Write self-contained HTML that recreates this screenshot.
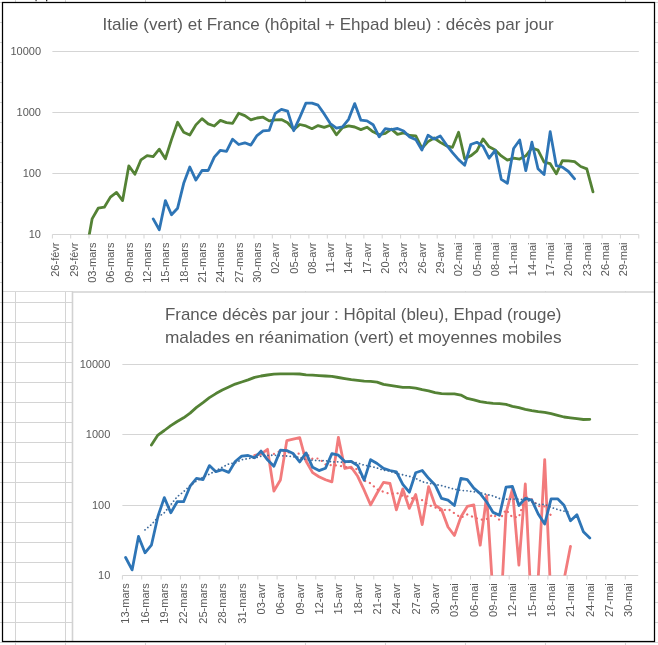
<!DOCTYPE html><html><head><meta charset="utf-8"><style>html,body{margin:0;padding:0;background:#fff;overflow:hidden}svg{display:block;will-change:transform}</style></head><body><svg width="658" height="645" viewBox="0 0 658 645">
<defs><clipPath id="cp1"><rect x="52" y="40" width="590" height="194.6"/></clipPath><clipPath id="cp2"><rect x="122" y="350" width="520" height="225.6"/></clipPath></defs>
<rect width="658" height="645" fill="#fff"/>
<path d="M0 2.5H658 M0 22.5H658 M0 42.5H658 M0 62.5H658 M0 82.5H658 M0 102.5H658 M0 122.5H658 M0 142.5H658 M0 162.5H658 M0 182.5H658 M0 202.5H658 M0 222.5H658 M0 242.5H658 M0 262.5H658 M0 282.5H658 M0 302.5H658 M0 322.5H658 M0 342.5H658 M0 362.5H658 M0 382.5H658 M0 402.5H658 M0 422.5H658 M0 442.5H658 M0 462.5H658 M0 482.5H658 M0 502.5H658 M0 522.5H658 M0 542.5H658 M0 562.5H658 M0 582.5H658 M0 602.5H658 M0 622.5H658 M0 642.5H658 M15.5 0V645 M65.5 0V645 M145.5 0V645 M225.5 0V645 M305.5 0V645 M385.5 0V645 M465.5 0V645 M545.5 0V645 M625.5 0V645" stroke="#d4d4d4" stroke-width="1" fill="none"/>
<rect x="35.3" y="0" width="1.6" height="1.2" fill="#666"/><rect x="46" y="0" width="1.3" height="1.3" fill="#222"/>
<rect x="3" y="3" width="651" height="288" fill="#fff"/>
<path d="M3 291.5H73" stroke="#d9d9d9" stroke-width="1"/>
<rect x="72.5" y="292" width="582" height="350" fill="#fff"/>
<path d="M72.5 641V292H654" stroke="#d2d2d2" stroke-width="1.6" fill="none"/>
<rect x="2.5" y="2.5" width="652" height="639" fill="none" stroke="#000" stroke-width="1.25"/>
<path d="M52.4 51.5H638.8 M52.4 112.5H638.8 M52.4 173.5H638.8 M52.4 234.5H638.8" stroke="#d5d5d5" stroke-width="1" fill="none"/>
<path d="M52.4 234.5V238.5 M70.7 234.5V238.5 M89.0 234.5V238.5 M107.4 234.5V238.5 M125.7 234.5V238.5 M144.0 234.5V238.5 M162.3 234.5V238.5 M180.7 234.5V238.5 M199.0 234.5V238.5 M217.3 234.5V238.5 M235.6 234.5V238.5 M254.0 234.5V238.5 M272.3 234.5V238.5 M290.6 234.5V238.5 M308.9 234.5V238.5 M327.3 234.5V238.5 M345.6 234.5V238.5 M363.9 234.5V238.5 M382.2 234.5V238.5 M400.6 234.5V238.5 M418.9 234.5V238.5 M437.2 234.5V238.5 M455.5 234.5V238.5 M473.9 234.5V238.5 M492.2 234.5V238.5 M510.5 234.5V238.5 M528.8 234.5V238.5 M547.1 234.5V238.5 M565.5 234.5V238.5 M583.8 234.5V238.5 M602.1 234.5V238.5 M620.4 234.5V238.5 M638.8 234.5V238.5" stroke="#d5d5d5" stroke-width="1" fill="none"/>
<text x="102.6" y="30" textLength="451" lengthAdjust="spacingAndGlyphs" font-family='"Liberation Sans", sans-serif' font-size="17" fill="#595959">Italie (vert) et France (hôpital + Ehpad bleu) : décès par jour</text>
<text x="41" y="55.3" font-family='"Liberation Sans", sans-serif' font-size="11" fill="#595959" text-anchor="end">10000</text>
<text x="41" y="116.3" font-family='"Liberation Sans", sans-serif' font-size="11" fill="#595959" text-anchor="end">1000</text>
<text x="41" y="177.3" font-family='"Liberation Sans", sans-serif' font-size="11" fill="#595959" text-anchor="end">100</text>
<text x="41" y="238.3" font-family='"Liberation Sans", sans-serif' font-size="11" fill="#595959" text-anchor="end">10</text>
<text transform="translate(59.3 242.5) rotate(-90)" font-family='"Liberation Sans", sans-serif' font-size="11" fill="#595959" text-anchor="end">26-févr</text>
<text transform="translate(77.6 242.5) rotate(-90)" font-family='"Liberation Sans", sans-serif' font-size="11" fill="#595959" text-anchor="end">29-févr</text>
<text transform="translate(95.9 242.5) rotate(-90)" font-family='"Liberation Sans", sans-serif' font-size="11" fill="#595959" text-anchor="end">03-mars</text>
<text transform="translate(114.2 242.5) rotate(-90)" font-family='"Liberation Sans", sans-serif' font-size="11" fill="#595959" text-anchor="end">06-mars</text>
<text transform="translate(132.6 242.5) rotate(-90)" font-family='"Liberation Sans", sans-serif' font-size="11" fill="#595959" text-anchor="end">09-mars</text>
<text transform="translate(150.9 242.5) rotate(-90)" font-family='"Liberation Sans", sans-serif' font-size="11" fill="#595959" text-anchor="end">12-mars</text>
<text transform="translate(169.2 242.5) rotate(-90)" font-family='"Liberation Sans", sans-serif' font-size="11" fill="#595959" text-anchor="end">15-mars</text>
<text transform="translate(187.5 242.5) rotate(-90)" font-family='"Liberation Sans", sans-serif' font-size="11" fill="#595959" text-anchor="end">18-mars</text>
<text transform="translate(205.8 242.5) rotate(-90)" font-family='"Liberation Sans", sans-serif' font-size="11" fill="#595959" text-anchor="end">21-mars</text>
<text transform="translate(224.2 242.5) rotate(-90)" font-family='"Liberation Sans", sans-serif' font-size="11" fill="#595959" text-anchor="end">24-mars</text>
<text transform="translate(242.5 242.5) rotate(-90)" font-family='"Liberation Sans", sans-serif' font-size="11" fill="#595959" text-anchor="end">27-mars</text>
<text transform="translate(260.8 242.5) rotate(-90)" font-family='"Liberation Sans", sans-serif' font-size="11" fill="#595959" text-anchor="end">30-mars</text>
<text transform="translate(279.1 242.5) rotate(-90)" font-family='"Liberation Sans", sans-serif' font-size="11" fill="#595959" text-anchor="end">02-avr</text>
<text transform="translate(297.5 242.5) rotate(-90)" font-family='"Liberation Sans", sans-serif' font-size="11" fill="#595959" text-anchor="end">05-avr</text>
<text transform="translate(315.8 242.5) rotate(-90)" font-family='"Liberation Sans", sans-serif' font-size="11" fill="#595959" text-anchor="end">08-avr</text>
<text transform="translate(334.1 242.5) rotate(-90)" font-family='"Liberation Sans", sans-serif' font-size="11" fill="#595959" text-anchor="end">11-avr</text>
<text transform="translate(352.4 242.5) rotate(-90)" font-family='"Liberation Sans", sans-serif' font-size="11" fill="#595959" text-anchor="end">14-avr</text>
<text transform="translate(370.8 242.5) rotate(-90)" font-family='"Liberation Sans", sans-serif' font-size="11" fill="#595959" text-anchor="end">17-avr</text>
<text transform="translate(389.1 242.5) rotate(-90)" font-family='"Liberation Sans", sans-serif' font-size="11" fill="#595959" text-anchor="end">20-avr</text>
<text transform="translate(407.4 242.5) rotate(-90)" font-family='"Liberation Sans", sans-serif' font-size="11" fill="#595959" text-anchor="end">23-avr</text>
<text transform="translate(425.7 242.5) rotate(-90)" font-family='"Liberation Sans", sans-serif' font-size="11" fill="#595959" text-anchor="end">26-avr</text>
<text transform="translate(444.1 242.5) rotate(-90)" font-family='"Liberation Sans", sans-serif' font-size="11" fill="#595959" text-anchor="end">29-avr</text>
<text transform="translate(462.4 242.5) rotate(-90)" font-family='"Liberation Sans", sans-serif' font-size="11" fill="#595959" text-anchor="end">02-mai</text>
<text transform="translate(480.7 242.5) rotate(-90)" font-family='"Liberation Sans", sans-serif' font-size="11" fill="#595959" text-anchor="end">05-mai</text>
<text transform="translate(499.0 242.5) rotate(-90)" font-family='"Liberation Sans", sans-serif' font-size="11" fill="#595959" text-anchor="end">08-mai</text>
<text transform="translate(517.4 242.5) rotate(-90)" font-family='"Liberation Sans", sans-serif' font-size="11" fill="#595959" text-anchor="end">11-mai</text>
<text transform="translate(535.7 242.5) rotate(-90)" font-family='"Liberation Sans", sans-serif' font-size="11" fill="#595959" text-anchor="end">14-mai</text>
<text transform="translate(554.0 242.5) rotate(-90)" font-family='"Liberation Sans", sans-serif' font-size="11" fill="#595959" text-anchor="end">17-mai</text>
<text transform="translate(572.3 242.5) rotate(-90)" font-family='"Liberation Sans", sans-serif' font-size="11" fill="#595959" text-anchor="end">20-mai</text>
<text transform="translate(590.6 242.5) rotate(-90)" font-family='"Liberation Sans", sans-serif' font-size="11" fill="#595959" text-anchor="end">23-mai</text>
<text transform="translate(609.0 242.5) rotate(-90)" font-family='"Liberation Sans", sans-serif' font-size="11" fill="#595959" text-anchor="end">26-mai</text>
<text transform="translate(627.3 242.5) rotate(-90)" font-family='"Liberation Sans", sans-serif' font-size="11" fill="#595959" text-anchor="end">29-mai</text>
<g clip-path="url(#cp1)" fill="none" stroke-width="2.8" stroke-linejoin="round" stroke-linecap="round">
<polyline points="86.0,252.9 92.1,218.9 98.2,208.2 104.3,207.2 110.4,197.1 116.5,192.4 122.6,200.6 128.8,165.9 134.9,174.3 141.0,159.8 147.1,155.7 153.2,156.6 159.3,149.2 165.4,158.7 171.5,139.6 177.6,122.3 183.7,132.2 189.8,135.0 195.9,124.9 202.0,118.6 208.2,123.9 214.3,126.0 220.4,120.4 226.5,122.6 232.6,123.4 238.7,113.3 244.8,115.6 250.9,119.9 257.0,118.0 263.1,117.2 269.2,120.9 275.3,119.8 281.4,119.6 287.6,122.7 293.7,129.6 299.8,124.5 305.9,125.9 312.0,128.7 318.1,125.6 324.2,127.4 330.3,125.2 336.4,134.8 342.5,127.6 348.6,125.9 354.7,127.0 360.9,129.6 367.0,127.2 373.1,131.8 379.2,134.7 385.3,133.4 391.4,129.1 397.5,134.4 403.6,132.8 409.7,135.5 415.8,135.8 421.9,148.2 428.0,141.6 434.1,138.0 440.3,142.4 446.4,145.8 452.5,147.3 458.6,132.3 464.7,158.8 470.8,155.8 476.9,150.8 483.0,138.9 489.1,146.8 495.2,150.0 501.3,155.9 507.4,160.2 513.6,158.1 519.7,159.1 525.8,155.8 531.9,148.0 538.0,150.1 544.1,162.2 550.2,163.7 556.3,173.8 562.4,160.7 568.5,160.9 574.6,161.7 580.7,166.5 586.8,168.9 593.0,191.9" stroke="#548235"/>
<polyline points="153.2,218.9 159.3,229.7 165.4,200.6 171.5,214.8 177.6,208.2 183.7,183.3 189.8,167.0 195.9,180.1 202.0,170.5 208.2,170.5 214.3,157.1 220.4,150.3 226.5,151.3 232.6,139.2 238.7,144.5 244.8,142.8 250.9,145.1 257.0,135.6 263.1,130.9 269.2,130.4 275.3,113.3 281.4,109.3 287.6,111.2 293.7,130.7 299.8,117.3 305.9,103.1 312.0,103.2 318.1,105.2 324.2,113.9 330.3,123.6 336.4,128.1 342.5,126.9 348.6,119.3 354.7,103.6 360.9,120.2 367.0,120.9 373.1,124.7 379.2,136.8 385.3,128.7 391.4,129.6 397.5,128.5 403.6,131.0 409.7,137.0 415.8,139.6 421.9,150.0 428.0,135.3 434.1,139.1 440.3,136.0 446.4,144.8 452.5,152.6 458.6,159.6 464.7,165.2 470.8,144.5 476.9,142.3 483.0,146.1 489.1,158.2 495.2,150.4 501.3,179.4 507.4,183.3 513.6,148.5 519.7,140.0 525.8,170.7 531.9,142.2 538.0,168.7 544.1,174.6 550.2,131.7 556.3,165.7 562.4,167.2 568.5,171.5 574.6,178.8" stroke="#2e75b6"/>
</g>
<path d="M122.4 364.5H638.2 M122.4 434.5H638.2 M122.4 505.5H638.2 M122.4 575.5H638.2" stroke="#d5d5d5" stroke-width="1" fill="none"/>
<path d="M122.4 575.5V579.5 M141.7 575.5V579.5 M161.1 575.5V579.5 M180.4 575.5V579.5 M199.8 575.5V579.5 M219.1 575.5V579.5 M238.4 575.5V579.5 M257.8 575.5V579.5 M277.1 575.5V579.5 M296.5 575.5V579.5 M315.8 575.5V579.5 M335.2 575.5V579.5 M354.5 575.5V579.5 M373.8 575.5V579.5 M393.2 575.5V579.5 M412.5 575.5V579.5 M431.9 575.5V579.5 M451.2 575.5V579.5 M470.5 575.5V579.5 M489.9 575.5V579.5 M509.2 575.5V579.5 M528.6 575.5V579.5 M547.9 575.5V579.5 M567.2 575.5V579.5 M586.6 575.5V579.5 M605.9 575.5V579.5 M625.3 575.5V579.5" stroke="#d5d5d5" stroke-width="1" fill="none"/>
<text x="165" y="320" textLength="396.5" lengthAdjust="spacingAndGlyphs" font-family='"Liberation Sans", sans-serif' font-size="17" fill="#595959">France décès par jour : Hôpital (bleu), Ehpad (rouge)</text>
<text x="165" y="343" textLength="396.5" lengthAdjust="spacingAndGlyphs" font-family='"Liberation Sans", sans-serif' font-size="17" fill="#595959">malades en réanimation (vert) et moyennes mobiles</text>
<text x="110.3" y="368.3" font-family='"Liberation Sans", sans-serif' font-size="11" fill="#595959" text-anchor="end">10000</text>
<text x="110.3" y="438.3" font-family='"Liberation Sans", sans-serif' font-size="11" fill="#595959" text-anchor="end">1000</text>
<text x="110.3" y="509.3" font-family='"Liberation Sans", sans-serif' font-size="11" fill="#595959" text-anchor="end">100</text>
<text x="110.3" y="579.3" font-family='"Liberation Sans", sans-serif' font-size="11" fill="#595959" text-anchor="end">10</text>
<text transform="translate(129.4 583.3) rotate(-90)" font-family='"Liberation Sans", sans-serif' font-size="11" fill="#595959" text-anchor="end">13-mars</text>
<text transform="translate(148.8 583.3) rotate(-90)" font-family='"Liberation Sans", sans-serif' font-size="11" fill="#595959" text-anchor="end">16-mars</text>
<text transform="translate(168.1 583.3) rotate(-90)" font-family='"Liberation Sans", sans-serif' font-size="11" fill="#595959" text-anchor="end">19-mars</text>
<text transform="translate(187.4 583.3) rotate(-90)" font-family='"Liberation Sans", sans-serif' font-size="11" fill="#595959" text-anchor="end">22-mars</text>
<text transform="translate(206.8 583.3) rotate(-90)" font-family='"Liberation Sans", sans-serif' font-size="11" fill="#595959" text-anchor="end">25-mars</text>
<text transform="translate(226.1 583.3) rotate(-90)" font-family='"Liberation Sans", sans-serif' font-size="11" fill="#595959" text-anchor="end">28-mars</text>
<text transform="translate(245.5 583.3) rotate(-90)" font-family='"Liberation Sans", sans-serif' font-size="11" fill="#595959" text-anchor="end">31-mars</text>
<text transform="translate(264.8 583.3) rotate(-90)" font-family='"Liberation Sans", sans-serif' font-size="11" fill="#595959" text-anchor="end">03-avr</text>
<text transform="translate(284.2 583.3) rotate(-90)" font-family='"Liberation Sans", sans-serif' font-size="11" fill="#595959" text-anchor="end">06-avr</text>
<text transform="translate(303.5 583.3) rotate(-90)" font-family='"Liberation Sans", sans-serif' font-size="11" fill="#595959" text-anchor="end">09-avr</text>
<text transform="translate(322.8 583.3) rotate(-90)" font-family='"Liberation Sans", sans-serif' font-size="11" fill="#595959" text-anchor="end">12-avr</text>
<text transform="translate(342.2 583.3) rotate(-90)" font-family='"Liberation Sans", sans-serif' font-size="11" fill="#595959" text-anchor="end">15-avr</text>
<text transform="translate(361.5 583.3) rotate(-90)" font-family='"Liberation Sans", sans-serif' font-size="11" fill="#595959" text-anchor="end">18-avr</text>
<text transform="translate(380.9 583.3) rotate(-90)" font-family='"Liberation Sans", sans-serif' font-size="11" fill="#595959" text-anchor="end">21-avr</text>
<text transform="translate(400.2 583.3) rotate(-90)" font-family='"Liberation Sans", sans-serif' font-size="11" fill="#595959" text-anchor="end">24-avr</text>
<text transform="translate(419.5 583.3) rotate(-90)" font-family='"Liberation Sans", sans-serif' font-size="11" fill="#595959" text-anchor="end">27-avr</text>
<text transform="translate(438.9 583.3) rotate(-90)" font-family='"Liberation Sans", sans-serif' font-size="11" fill="#595959" text-anchor="end">30-avr</text>
<text transform="translate(458.2 583.3) rotate(-90)" font-family='"Liberation Sans", sans-serif' font-size="11" fill="#595959" text-anchor="end">03-mai</text>
<text transform="translate(477.6 583.3) rotate(-90)" font-family='"Liberation Sans", sans-serif' font-size="11" fill="#595959" text-anchor="end">06-mai</text>
<text transform="translate(496.9 583.3) rotate(-90)" font-family='"Liberation Sans", sans-serif' font-size="11" fill="#595959" text-anchor="end">09-mai</text>
<text transform="translate(516.2 583.3) rotate(-90)" font-family='"Liberation Sans", sans-serif' font-size="11" fill="#595959" text-anchor="end">12-mai</text>
<text transform="translate(535.6 583.3) rotate(-90)" font-family='"Liberation Sans", sans-serif' font-size="11" fill="#595959" text-anchor="end">15-mai</text>
<text transform="translate(554.9 583.3) rotate(-90)" font-family='"Liberation Sans", sans-serif' font-size="11" fill="#595959" text-anchor="end">18-mai</text>
<text transform="translate(574.3 583.3) rotate(-90)" font-family='"Liberation Sans", sans-serif' font-size="11" fill="#595959" text-anchor="end">21-mai</text>
<text transform="translate(593.6 583.3) rotate(-90)" font-family='"Liberation Sans", sans-serif' font-size="11" fill="#595959" text-anchor="end">24-mai</text>
<text transform="translate(612.9 583.3) rotate(-90)" font-family='"Liberation Sans", sans-serif' font-size="11" fill="#595959" text-anchor="end">27-mai</text>
<text transform="translate(632.3 583.3) rotate(-90)" font-family='"Liberation Sans", sans-serif' font-size="11" fill="#595959" text-anchor="end">30-mai</text>
<g clip-path="url(#cp2)" fill="none" stroke-linejoin="round" stroke-linecap="round">
<polyline points="151.4,445.1 157.9,435.1 164.3,430.5 170.8,425.6 177.2,421.5 183.6,417.8 190.1,413.1 196.5,407.4 203.0,402.6 209.4,397.6 215.9,393.6 222.3,390.1 228.8,387.1 235.2,384.1 241.7,382.0 248.1,379.9 254.6,377.4 261.0,376.0 267.5,375.0 273.9,374.2 280.4,373.8 286.8,373.8 293.2,373.8 299.7,374.0 306.1,374.9 312.6,375.2 319.0,375.6 325.5,376.0 331.9,376.3 338.4,377.5 344.8,378.6 351.3,379.6 357.7,380.4 364.2,381.2 370.6,381.4 377.1,382.1 383.5,384.4 390.0,385.4 396.4,386.4 402.8,387.3 409.3,387.4 415.7,388.2 422.2,389.6 428.6,390.8 435.1,392.6 441.5,393.7 448.0,393.9 454.4,393.8 460.9,395.1 467.3,398.4 473.8,399.8 480.2,401.7 486.7,402.7 493.1,403.3 499.5,403.7 506.0,404.4 512.4,406.3 518.9,407.7 525.3,409.4 531.8,410.7 538.2,411.7 544.7,412.4 551.1,413.7 557.6,415.3 564.0,417.0 570.5,417.8 576.9,418.6 583.4,419.5 589.8,419.3" stroke="#548235" stroke-width="2.8"/>
<polyline points="254.6,455.4 261.0,454.1 267.5,449.3 273.9,491.0 280.4,480.0 286.8,440.6 293.2,439.1 299.7,437.7 306.1,461.3 312.6,472.6 319.0,476.7 325.5,479.7 331.9,481.9 338.4,437.3 344.8,468.5 351.3,467.2 357.7,476.3 364.2,490.2 370.6,504.9 377.1,493.0 383.5,482.4 390.0,483.5 396.4,509.8 402.8,489.0 409.3,508.4 415.7,494.5 422.2,524.6 428.6,486.7 435.1,505.2 441.5,509.4 448.0,527.0 454.4,535.5 460.9,516.9 467.3,506.4 473.8,504.9 480.2,545.2 486.7,495.6 493.1,596.7 499.5,633.4 506.0,513.2 512.4,489.0 518.9,565.2 525.3,484.0 531.8,616.6 538.2,578.7 544.7,459.6 551.1,603.5 557.6,624.7 564.0,579.8 570.5,546.3" stroke="#f27b7c" stroke-width="2.8"/>
<polyline points="273.9,453.9 280.4,450.8 286.8,451.7 293.2,454.3 299.7,453.5 306.1,453.5 312.6,458.9 319.0,458.4 325.5,464.4 331.9,465.2 338.4,465.6 344.8,466.7 351.3,468.4 357.7,469.2 364.2,480.7 370.6,483.3 377.1,489.5 383.5,491.8 390.0,494.0 396.4,492.8 402.8,495.7 409.3,496.6 415.7,500.2 422.2,500.2 428.6,505.0 435.1,507.4 441.5,511.1 448.0,508.9 454.4,513.2 460.9,517.7 467.3,514.5 473.8,517.3 480.2,519.7 486.7,519.0 493.1,514.3 499.5,519.9 506.0,509.7 512.4,517.3 518.9,517.1 525.3,496.9 531.8,499.4 538.2,506.2 544.7,506.4 551.1,515.6" stroke="#ec6a6d" stroke-width="2.2" stroke-dasharray="0.1 5.1"/>
<polyline points="125.6,557.5 132.1,569.9 138.5,536.4 145.0,552.8 151.4,545.2 157.9,516.5 164.3,497.6 170.8,512.8 177.2,501.7 183.6,501.7 190.1,486.2 196.5,478.4 203.0,479.6 209.4,465.6 215.9,471.7 222.3,469.7 228.8,472.4 235.2,461.5 241.7,456.1 248.1,455.5 254.6,457.8 261.0,451.1 267.5,459.8 273.9,466.3 280.4,450.2 286.8,450.6 293.2,453.6 299.7,461.9 306.1,452.9 312.6,467.3 319.0,470.6 325.5,468.2 331.9,453.6 338.4,455.2 344.8,461.6 351.3,461.5 357.7,465.7 364.2,480.1 370.6,459.7 377.1,463.5 383.5,468.4 390.0,470.5 396.4,471.9 402.8,484.3 409.3,492.2 415.7,472.8 422.2,470.5 428.6,478.3 435.1,484.9 441.5,498.4 448.0,500.1 454.4,505.5 460.9,478.3 467.3,479.7 473.8,488.1 480.2,493.6 486.7,502.0 493.1,512.4 499.5,515.2 506.0,487.2 512.4,486.5 518.9,505.5 525.3,498.4 531.8,500.1 538.2,514.0 544.7,524.0 551.1,498.8 557.6,498.8 564.0,505.2 570.5,520.8 576.9,514.8 583.4,531.7 589.8,538.1" stroke="#2e75b6" stroke-width="2.8"/>
<polyline points="145.0,529.9 151.4,524.6 157.9,517.3 164.3,512.7 170.8,504.7 177.2,496.7 183.6,491.7 190.1,485.7 196.5,481.0 203.0,477.1 209.4,474.2 215.9,470.7 222.3,467.2 228.8,463.9 235.2,462.8 241.7,459.8 248.1,458.6 254.6,458.0 261.0,456.3 267.5,455.4 273.9,455.2 280.4,455.7 286.8,456.0 293.2,456.8 299.7,457.2 306.1,459.8 312.6,460.3 319.0,460.6 325.5,460.6 331.9,462.0 338.4,461.8 344.8,462.7 351.3,461.5 357.7,463.1 364.2,465.2 370.6,466.4 377.1,468.0 383.5,470.2 390.0,471.2 396.4,473.5 402.8,474.8 409.3,476.3 415.7,478.4 422.2,481.7 428.6,483.3 435.1,484.5 441.5,485.6 448.0,487.5 454.4,489.2 460.9,490.4 467.3,490.8 473.8,491.9 480.2,492.7 486.7,494.5 493.1,495.9 499.5,498.5 506.0,499.2 512.4,499.0 518.9,499.1 525.3,499.8 531.8,501.9 538.2,504.4 544.7,504.4 551.1,507.3 557.6,509.5 564.0,511.2 570.5,512.3" stroke="#3d6a9c" stroke-width="1.8" stroke-linecap="round" stroke-dasharray="0.01 3.7"/>
</g>
</svg></body></html>
